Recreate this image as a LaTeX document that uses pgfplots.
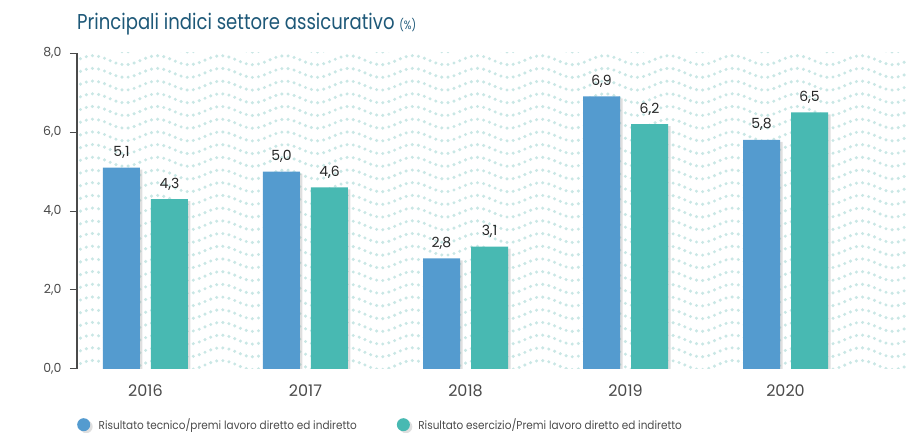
\documentclass[border=0pt]{standalone}
\usepackage{fontspec}
\setmainfont{Poppins}
\newfontfamily\titlefont{Poppins}[FakeStretch=0.84]
\newfontfamily\legfont{Poppins}[FakeStretch=0.91]
\usepackage{pgfplots}
\pgfplotsset{compat=1.18}
\usetikzlibrary{shadows,backgrounds}
\definecolor{cblue}{HTML}{549BCF}
\definecolor{cteal}{HTML}{48B9B2}
\definecolor{dotcol}{HTML}{C9E7E5}
\definecolor{titlecol}{HTML}{1D5878}
\definecolor{txt}{HTML}{4A4A4A}
\begin{document}
\begin{tikzpicture}
\begin{axis}[
  scale only axis, width=829pt, height=316pt,
  xmin=-0.428, xmax=4.753, ymin=0, ymax=8,
  axis y line*=left, axis x line*=bottom,
  x axis line style={draw=none},
  y axis line style={draw=txt, line width=1.3pt},
  xtick={0,1,2,3,4},
  xticklabels={2016,2017,2018,2019,2020},
  xtick style={draw=none},
  ytick={0,2,4,6,8},
  ytick style={draw=txt, line width=1pt},
  tick align=outside, major tick length=7pt,
  /pgf/number format/assume math mode=true,
  yticklabel style={font=\fontsize{12.5}{12.5}\selectfont, text=txt, xshift=-5pt,
    /pgf/number format/.cd, use comma, fixed, fixed zerofill, precision=1},
  xticklabel style={font=\fontsize{16}{16}\selectfont, text=txt, yshift=-5pt},
  ybar=11pt, bar width=37pt,
  nodes near coords,
  nodes near coords style={font=\fontsize{14}{14}\selectfont, text=black!85,
    anchor=base, inner sep=0pt, yshift=11pt,
    /pgf/number format/.cd, use comma, fixed, fixed zerofill, precision=1},
  legend style={at={(axis description cs:0,0)}, anchor=west,
    yshift=-55.7pt, draw=none, fill=none, inner sep=0pt,
    font=\legfont\fontsize{11.5}{11.5}\selectfont, text=txt,
    legend columns=2,
    /tikz/every odd column/.append style={column sep=6.5pt},
    /tikz/every even column/.append style={column sep=38pt}},
  legend cell align=left,
]
\coordinate (O) at (rel axis cs:0,0);
\addplot[fill=cblue, draw=none,
  drop shadow={shadow xshift=2.5pt, shadow yshift=-2pt, opacity=0.25},
  legend image code/.code={\fill[cblue] (6.5pt,0pt) circle (6.5pt);}]
  coordinates {(0,5.1) (1,5.0) (2,2.8) (3,6.9) (4,5.8)};
\addlegendentry{Risultato tecnico/premi lavoro diretto ed indiretto}
\addplot[fill=cteal, draw=none,
  drop shadow={shadow xshift=2.5pt, shadow yshift=-2pt, opacity=0.25},
  legend image code/.code={\fill[cteal] (6.5pt,0pt) circle (6.5pt);}]
  coordinates {(0,4.3) (1,4.6) (2,3.1) (3,6.2) (4,6.5)};
\addlegendentry{Risultato esercizio/Premi lavoro diretto ed indiretto}
\end{axis}
% dotted wave background, behind the axis
\begin{scope}[on background layer, shift={(O)}, x=1pt, y=1pt]
  \clip (0,0) rectangle (829,316);
  \foreach \r in {-1,...,25} {
    \draw[dotcol, line width=3.4pt, line cap=round, dash pattern=on 0pt off 6.2pt]
      plot[domain=-8:835, samples=180, smooth, variable=\t]
      (\t, {4+12.7*\r+4.5*sin(5.625*\t)});
  }
\end{scope}
\node[anchor=base west, inner sep=0pt, text=titlecol] at ([shift={(0pt,339pt)}]O)
  {\titlefont\fontsize{21.5}{21.5}\selectfont Principali indici settore assicurativo
   {\fontsize{12}{12}\selectfont (\%)}};
\pgfresetboundingbox
\path[use as bounding box] ([shift={(-77pt,-64pt)}]O) rectangle ++(906pt,433pt);
\end{tikzpicture}
\end{document}
